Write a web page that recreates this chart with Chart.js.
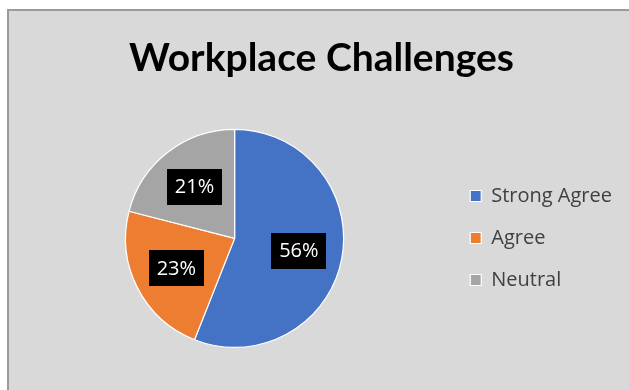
<!DOCTYPE html>
<html>
<head>
<meta charset="utf-8">
<script src="https://cdn.jsdelivr.net/npm/chart.js@4/dist/chart.umd.min.js"></script>
<style>
  html, body { margin: 0; padding: 0; background: #ffffff; overflow: hidden; }
  #panel { position: absolute; left: 7px; top: 9px; width: 640px; height: 400px;
           background: #d9d9d9; border: 2px solid #9a9a9a; box-sizing: border-box; }
  #wrap { position: absolute; left: 21px; top: 0; width: 608px; height: 390px; }
</style>
</head>
<body>
<div id="panel"></div>
<div id="wrap"><canvas id="c" width="608" height="390"></canvas></div>
<script>
const titleText = "Workplace Challenges";
const categories = ["Strong Agree", "Agree", "Neutral"];
const percentValues = [56, 23, 21];
const sliceColors = ["#4472c4", "#ed7d31", "#a5a5a5"];

const boxLabelPlugin = {
  id: 'boxLabels',
  afterDatasetsDraw(chart) {
    const ctx = chart.ctx;
    const meta = chart.getDatasetMeta(0);
    const ds = chart.data.datasets[0];
    ctx.save();
    ctx.font = '20px "Open Sans"';
    ctx.textAlign = 'center';
    ctx.textBaseline = 'middle';
    meta.data.forEach((arc, i) => {
      const p = arc.getProps(['x', 'y', 'startAngle', 'endAngle', 'outerRadius'], true);
      const mid = (p.startAngle + p.endAngle) / 2;
      const d = p.outerRadius * 0.6;
      const cx = p.x + Math.cos(mid) * d;
      const cy = p.y + Math.sin(mid) * d;
      const txt = ds.data[i] + '%';
      const w = ctx.measureText(txt).width + 16;
      const h = 36;
      ctx.fillStyle = '#000000';
      ctx.fillRect(Math.round(cx - w / 2), Math.round(cy - h / 2), Math.round(w), h);
      ctx.fillStyle = '#ffffff';
      ctx.fillText(txt, cx, cy + 1);
    });
    ctx.restore();
  }
};

new Chart(document.getElementById('c'), {
  type: 'pie',
  data: {
    labels: categories,
    datasets: [{
      data: percentValues,
      backgroundColor: sliceColors,
      borderColor: '#ffffff',
      borderWidth: 1.2
    }]
  },
  plugins: [boxLabelPlugin],
  options: {
    responsive: false,
    animation: false,
    layout: { padding: { top: 0, bottom: 42, left: 0, right: 7 } },
    plugins: {
      tooltip: { enabled: false },
      title: {
        display: true,
        text: titleText,
        color: '#000000',
        font: { family: 'Lato', size: 39, weight: 'bold' },
        padding: { top: 35, bottom: 47 }
      },
      legend: {
        position: 'right',
        title: {
          display: true,
          text: ' ',
          font: { size: 10 },
          padding: { top: 116, bottom: 0 }
        },
        labels: {
          color: '#404040',
          font: { family: 'Open Sans', size: 20 },
          boxWidth: 11,
          boxHeight: 11,
          padding: 22
        }
      }
    }
  }
});
</script>
</body>
</html>
